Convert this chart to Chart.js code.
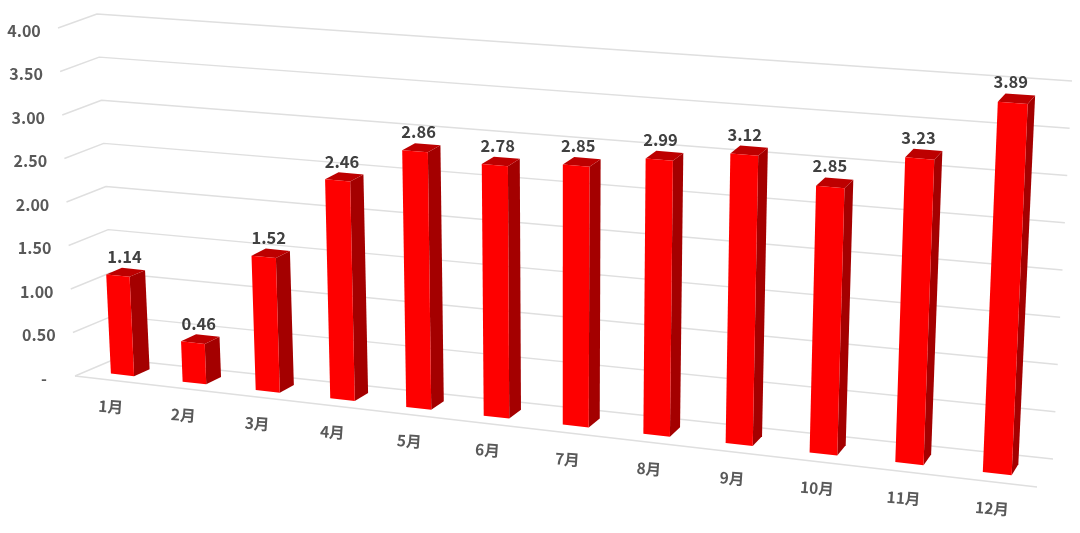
<!DOCTYPE html>
<html><head><meta charset="utf-8">
<style>html,body{margin:0;padding:0;background:#fff}#wrap{width:1080px;height:533px}</style>
<script src="https://cdn.jsdelivr.net/npm/chart.js@4"></script></head>
<body><div id="wrap"><canvas id="c" width="1080" height="533"></canvas></div>
<script>
const months = ['1月','2月','3月','4月','5月','6月','7月','8月','9月','10月','11月','12月'];
const values = [1.14,0.46,1.52,2.46,2.86,2.78,2.85,2.99,3.12,2.85,3.23,3.89];
const yMax = 4, yStep = 0.5;

// 3D box of the plot: [x,y] screen corners (front/back, bottom/top, left/right)
const box = {
  fbl:[75,376], fbr:[1037,487], bbl:[115,359], bbr:[1053,459],
  ftl:[58,28],  ftr:[1054,102], btl:[97,14],   btr:[1072,81]
};
const KP = 1.127, W0 = 0.3, W1 = 0.7;
const lerp=(a,b,t)=>[a[0]+(b[0]-a[0])*t,a[1]+(b[1]-a[1])*t];
const warp=u=>u/(u+KP*(1-u));
function project(u,w,t){
  const s=warp(u);
  const fb=lerp(box.fbl,box.fbr,s), bb=lerp(box.bbl,box.bbr,s),
        ft=lerp(box.ftl,box.ftr,s), bt=lerp(box.btl,box.btr,s);
  return lerp(lerp(fb,bb,w),lerp(ft,bt,w),t);
}
function poly(ctx,pts,fill){
  ctx.beginPath();pts.forEach((p,i)=>i?ctx.lineTo(p[0],p[1]):ctx.moveTo(p[0],p[1]));
  ctx.closePath();ctx.fillStyle=fill;ctx.fill();
}
const FONT="'Noto Sans CJK SC','Noto Sans',sans-serif";

const perspective={
  id:'perspective',
  beforeDatasetsDraw(chart){
    const {ctx,scales:{y}}=chart;
    ctx.save();
    ctx.strokeStyle='#dfdfdf';ctx.lineWidth=1.4;ctx.lineJoin='round';
    y.ticks.forEach(tk=>{
      const t=(y.bottom-y.getPixelForValue(tk.value))/(y.bottom-y.top);
      const a=project(0,0,t),b=project(0,1,t),c=project(1,1,t);
      ctx.beginPath();ctx.moveTo(a[0],a[1]);ctx.lineTo(b[0],b[1]);ctx.lineTo(c[0],c[1]);ctx.stroke();
    });
    const a=project(0,0,0),b=project(1,0,0);
    ctx.beginPath();ctx.moveTo(a[0],a[1]);ctx.lineTo(b[0],b[1]);ctx.stroke();
    // y tick labels
    ctx.fillStyle='#595959';ctx.font='700 16px '+FONT;ctx.textAlign='center';ctx.textBaseline='middle';
    y.ticks.forEach(tk=>{
      const t=(y.bottom-y.getPixelForValue(tk.value))/(y.bottom-y.top);
      const p=project(0,0,t);
      const txt=tk.value===0?'-':tk.value.toFixed(2);
      ctx.fillText(txt,p[0]+(tk.value===0?-31:-34),p[1]+2.5);
    });
    ctx.restore();
  },
  beforeDatasetDraw(chart,args){
    const {ctx,chartArea:A,scales:{y}}=chart;
    const meta=args.meta;
    ctx.save();
    meta.data.forEach(el=>{
      const {x,y:top,width}=el.getProps(['x','y','width'],true);
      const u0=(x-width/2-A.left)/A.width, u1=(x+width/2-A.left)/A.width;
      const t=(y.bottom-top)/(y.bottom-y.top);
      const fbl=project(u0,W0,0),fbr=project(u1,W0,0),ftl=project(u0,W0,t),ftr=project(u1,W0,t),
            bbr=project(u1,W1,0),btr=project(u1,W1,t),btl=project(u0,W1,t);
      poly(ctx,[fbr,bbr,btr,ftr],'#a40000');
      poly(ctx,[ftl,ftr,btr,btl],'#bd0000');
      poly(ctx,[fbl,fbr,ftr,ftl],'#fe0000');
    });
    ctx.restore();
    return false;
  },
  afterDatasetsDraw(chart){
    const {ctx,chartArea:A,scales:{x,y}}=chart;
    const meta=chart.getDatasetMeta(0);
    ctx.save();
    ctx.textAlign='center';ctx.textBaseline='middle';
    meta.data.forEach((el,i)=>{
      const u=(el.x-A.left)/A.width;
      const t=(y.bottom-el.y)/(y.bottom-y.top);
      const p=project(u,0.5,t), s=warp(u);
      ctx.fillStyle='#404040';ctx.font='700 16.5px '+FONT;
      ctx.fillText(values[i].toFixed(2),p[0]-1-5*s,p[1]-15-2*s);
      const q=project(u,0,0);
      ctx.save();
      ctx.translate(q[0],q[1]+26.5);ctx.rotate(4*Math.PI/180);
      ctx.fillStyle='#595959';ctx.font='700 15.5px '+FONT;
      ctx.fillText(x.getLabelForValue(i),0,0);
      ctx.restore();
    });
    ctx.restore();
  }
};

new Chart(document.getElementById('c'),{
  type:'bar',
  data:{labels:months,datasets:[{data:values,backgroundColor:'#fe0000',barPercentage:1,categoryPercentage:0.325}]},
  options:{
    responsive:false,animation:false,
    layout:{padding:{left:75,right:43,top:28,bottom:157}},
    plugins:{legend:{display:false},tooltip:{enabled:false},title:{display:false}},
    scales:{
      x:{display:false},
      y:{display:false,min:0,max:yMax,ticks:{stepSize:yStep}}
    }
  },
  plugins:[perspective]
});
</script></body></html>
